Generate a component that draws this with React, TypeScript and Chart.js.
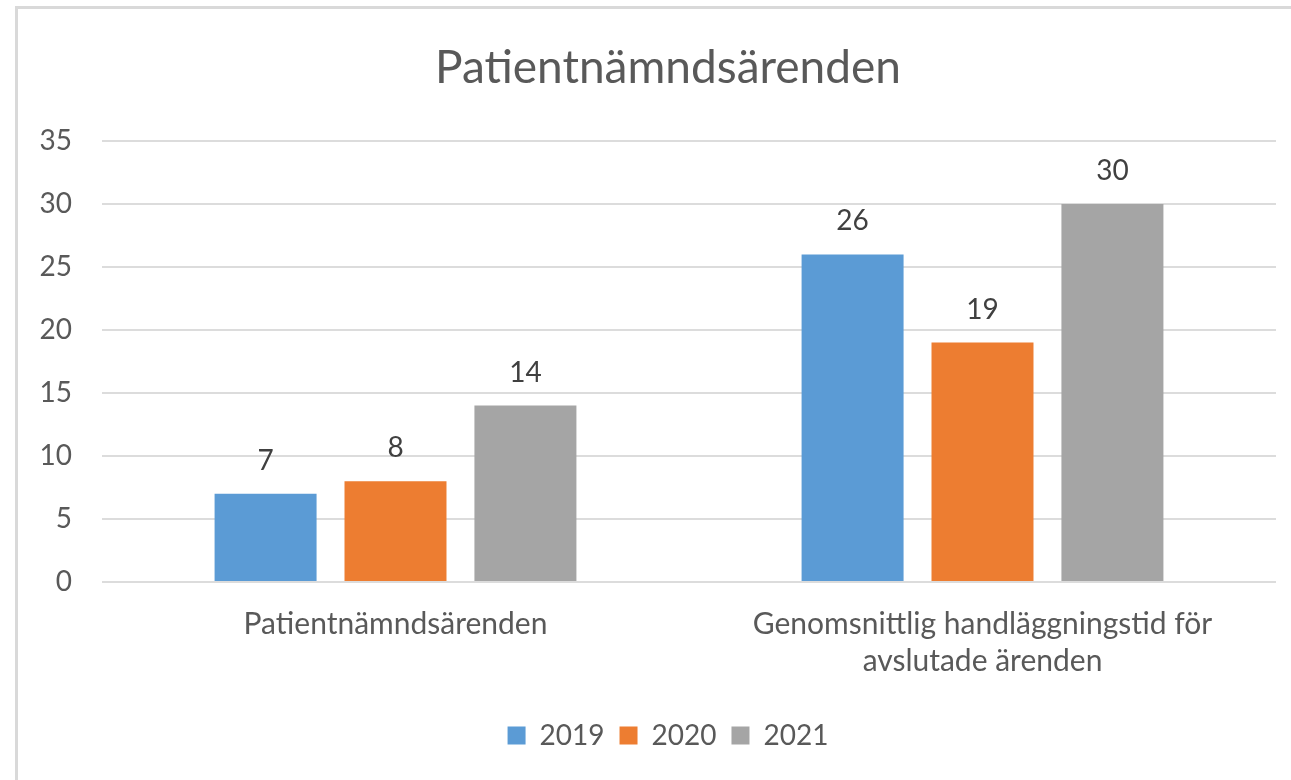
import React, { useEffect, useRef } from "react";
import { Chart, registerables } from "chart.js";

Chart.register(...registerables);

const chartTitle = "Patientnämndsärenden";
const categories: (string | string[])[] = [
  "Patientnämndsärenden",
  ["Genomsnittlig handläggningstid för", "avslutade ärenden"],
];
const seriesNames = ["2019", "2020", "2021"];
const values2019 = [7, 26];
const values2020 = [8, 19];
const values2021 = [14, 30];
const seriesColors = ["#5B9BD5", "#ED7D31", "#A5A5A5"];
const yMin = 0;
const yMax = 35;
const yStep = 5;

const FONT = "Lato, 'Open Sans', sans-serif";
const TEXT = "#595959";

const dataLabelPlugin = {
  id: "dataLabels",
  afterLayout(chart: any) {
    // let the y tick labels extend into the left padding without clipping
    const y = chart.scales.y;
    if (y) y.left = 0;
  },
  afterDatasetsDraw(chart: any) {
    const ctx = chart.ctx;
    ctx.save();
    ctx.font = `28px ${FONT}`;
    ctx.fillStyle = "#404040";
    ctx.textAlign = "center";
    ctx.textBaseline = "alphabetic";
    chart.data.datasets.forEach((ds: any, i: number) => {
      const meta = chart.getDatasetMeta(i);
      meta.data.forEach((bar: any, j: number) => {
        ctx.fillText(String(ds.data[j]), bar.x, bar.y - 24);
      });
    });
    ctx.restore();
  },
};

export default function App() {
  const ref = useRef<HTMLCanvasElement>(null);
  useEffect(() => {
    if (!ref.current) return;
    const allValues = [values2019, values2020, values2021];
    const chart = new Chart(ref.current, {
      type: "bar",
      data: {
        labels: categories,
        datasets: seriesNames.map((name, i) => ({
          label: name,
          data: allValues[i],
          backgroundColor: seriesColors[i],
          borderWidth: 0,
          categoryPercentage: 0.664,
          barPercentage: 0.785,
        })),
      },
      options: {
        responsive: false,
        animation: false,
        maintainAspectRatio: false,
        layout: { padding: { top: 20, right: 15, bottom: 20.5, left: 60 } },
        plugins: {
          title: {
            display: true,
            text: chartTitle,
            color: TEXT,
            font: { family: FONT, size: 46, weight: "normal", lineHeight: 1.2 },
            padding: { top: 20.4, bottom: 45.4 },
          },
          legend: {
            position: "bottom",
            labels: {
              color: TEXT,
              font: { family: FONT, size: 28 },
              boxWidth: 18,
              boxHeight: 18,
              padding: 15,
            },
          },
          tooltip: { enabled: false },
        },
        scales: {
          x: {
            grid: { display: false, drawTicks: false },
            border: { display: false },
            ticks: {
              color: TEXT,
              font: { family: FONT, size: 30, lineHeight: 37 / 30 },
              padding: 24,
              maxRotation: 0,
              autoSkip: false,
            },
            afterFit(scale: any) {
              scale.height = 124.5;
            },
          },
          y: {
            min: yMin,
            max: yMax,
            grid: { color: "#dcdcdc", lineWidth: 2, drawTicks: false },
            border: { display: false },
            ticks: {
              stepSize: yStep,
              color: TEXT,
              font: { family: FONT, size: 28 },
              padding: 30,
            },
            afterFit(scale: any) {
              scale.width = 42;
            },
          },
        },
      },
      plugins: [dataLabelPlugin],
    });
    return () => chart.destroy();
  }, []);

  return (
    <div
      style={{
        position: "fixed",
        left: 0,
        top: 0,
        width: 1291,
        height: 780,
        overflow: "hidden",
        background: "#fff",
      }}
    >
      <div
        style={{
          position: "absolute",
          left: 15,
          top: 6,
          width: 1400,
          height: 900,
          border: "3px solid #d9d9d9",
        }}
      />
      <canvas
        ref={ref}
        width={1291}
        height={780}
        style={{ position: "absolute", left: 0, top: 0, width: 1291, height: 780 }}
      />
    </div>
  );
}
